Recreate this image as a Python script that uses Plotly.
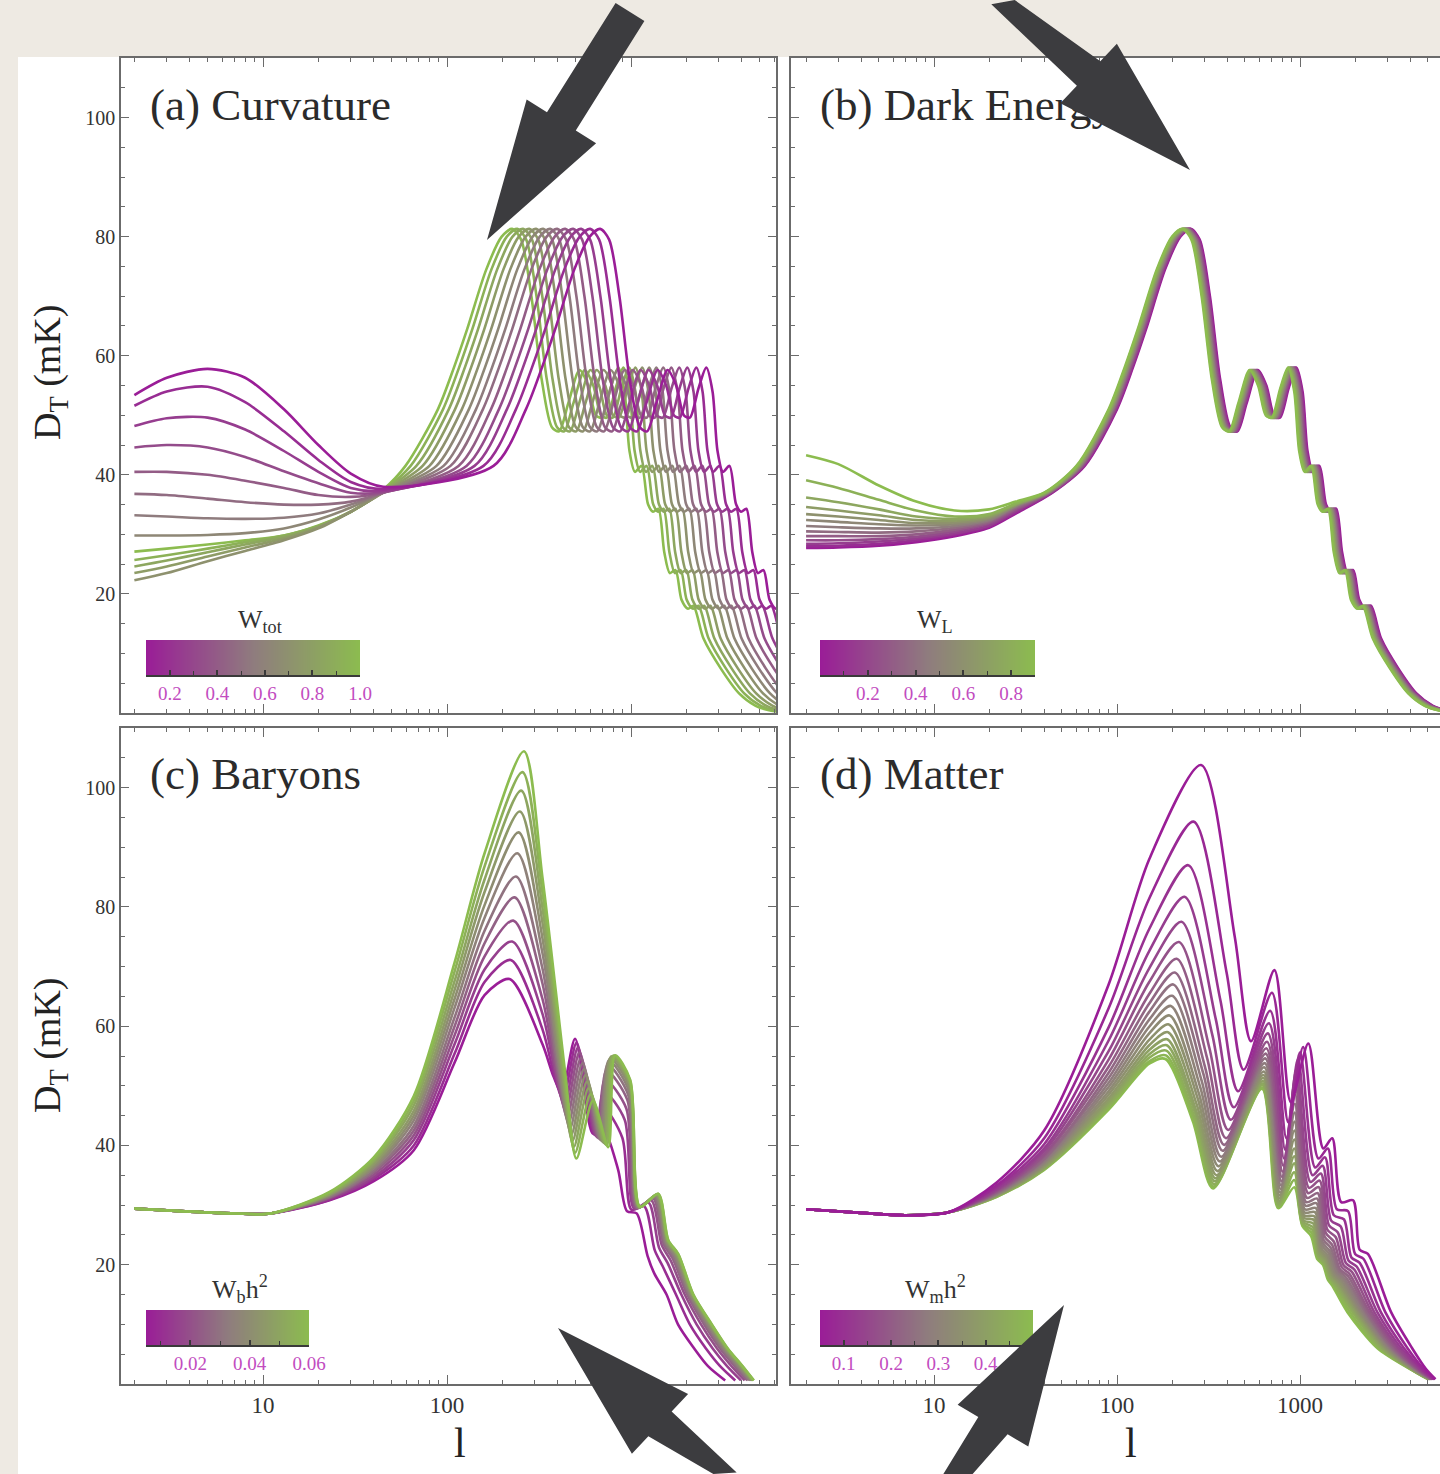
import plotly.graph_objects as go
from plotly.colors import sample_colorscale

W, H = 1440, 1474
SERIF = "Liberation Serif, Times New Roman, serif"
RAMP = [[0.0, "#9a1d97"], [0.5, "#8f7c7e"], [1.0, "#8cbc4f"]]

# ---------------- (a) Curvature ----------------
omega_tot = [0.1, 0.175, 0.25, 0.325, 0.4, 0.475, 0.55, 0.625, 0.7, 0.775, 0.85, 0.925, 1.0]
omega_tot_peak_l = [680, 600, 536, 485, 439, 397, 364, 333, 305, 280, 259, 241, 226]
curv_low_l = [2, 3, 5, 8, 13, 20, 30, 45]
curv_low_D = [
    [53.4, 56.3, 57.8, 56.3, 51.0, 45.0, 40.2, 38.0],
    [51.6, 54.0, 54.8, 52.2, 47.3, 42.5, 38.8, 37.6],
    [48.2, 49.5, 49.6, 47.6, 44.0, 40.5, 37.8, 37.3],
    [44.6, 45.0, 44.6, 43.0, 40.6, 38.6, 37.0, 37.1],
    [40.5, 40.5, 40.0, 39.0, 37.8, 36.6, 36.3, 37.0],
    [36.8, 36.6, 36.0, 35.4, 35.0, 35.0, 35.5, 37.0],
    [33.2, 33.0, 32.7, 32.6, 32.8, 33.5, 35.0, 37.0],
    [29.8, 29.8, 29.9, 30.2, 31.0, 32.5, 34.5, 37.0],
    [22.3, 23.5, 25.5, 27.2, 29.0, 31.0, 33.8, 37.0],
    [23.5, 24.6, 26.3, 27.8, 29.3, 31.2, 33.8, 37.1],
    [24.6, 25.6, 27.0, 28.3, 29.6, 31.3, 33.8, 37.2],
    [25.7, 26.5, 27.6, 28.7, 29.8, 31.4, 33.8, 37.3],
    [27.1, 27.6, 28.3, 29.0, 29.8, 31.5, 33.8, 37.5],
]

# acoustic part of the flat spectrum (first peak at l = 228)
acoustic_peak_l = 228
acoustic_l = [40, 60, 90, 110, 130, 165, 200, 228, 255, 290, 330, 375, 410, 460, 530, 590,
              650, 700, 780, 860, 930, 990, 1060, 1150, 1250, 1330, 1420, 1530, 1640, 1760,
              1900, 2060, 2200, 2500, 3100, 3900, 4800, 5600, 6500]
acoustic_D = [37.0, 41.5, 51.0, 58.0, 64.5, 74.5, 80.0, 81.3, 79.5, 70.0, 56.0, 48.0, 47.3,
              52.0, 57.6, 55.0, 50.0, 49.6, 54.5, 58.0, 54.0, 44.0, 40.5, 41.5, 35.0, 33.8,
              34.3, 27.0, 23.5, 24.0, 19.0, 17.5, 18.0, 12.5, 7.5, 3.3, 1.2, 0.5, 0.2]

# ---------------- (b) Dark energy ----------------
omega_lambda = [0.0, 0.075, 0.15, 0.225, 0.3, 0.375, 0.45, 0.525, 0.6, 0.675, 0.75, 0.825, 0.9]
lambda_shift = [1.11, 1.10, 1.09, 1.08, 1.07, 1.06, 1.05, 1.042, 1.034, 1.026, 1.017, 1.008, 1.0]
lambda_low_l = [2, 3, 5, 8, 13, 20, 28]
lambda_low_D = [
    [27.7, 27.8, 28.1, 28.7, 29.7, 31.1, 33.5],
    [28.0, 28.1, 28.4, 29.0, 30.0, 31.3, 33.7],
    [28.4, 28.5, 28.8, 29.3, 30.2, 31.5, 33.9],
    [29.0, 29.0, 29.2, 29.6, 30.5, 31.8, 34.1],
    [29.7, 29.7, 29.7, 30.0, 30.8, 32.0, 34.3],
    [30.5, 30.4, 30.3, 30.5, 31.1, 32.2, 34.5],
    [31.4, 31.2, 31.0, 31.0, 31.4, 32.4, 34.7],
    [32.4, 32.1, 31.7, 31.5, 31.7, 32.6, 34.8],
    [33.4, 33.0, 32.4, 31.9, 32.0, 32.8, 34.9],
    [34.6, 34.0, 33.2, 32.4, 32.3, 33.0, 35.0],
    [36.2, 35.4, 34.2, 33.0, 32.6, 33.2, 35.1],
    [39.1, 37.8, 35.8, 34.0, 33.0, 33.4, 35.2],
    [43.3, 41.8, 38.2, 35.5, 34.0, 34.2, 35.5],
]

# ---------------- (c) Baryons ----------------
baryon_h2 = [0.005, 0.010, 0.015, 0.020, 0.025, 0.030, 0.035, 0.040, 0.045, 0.050, 0.055, 0.060]
bar_low_l = [2, 4, 7, 11]
bar_low_D = [29.4, 28.9, 28.6, 28.6]
bar_rise_l = [23, 40, 66, 110, 160]
bar_D23 = [30.8, 30.9, 31.1, 31.2, 31.3, 31.4, 31.6, 31.7, 31.8, 31.9, 32.1, 32.2]
bar_D40 = [34.0, 34.4, 34.7, 35.1, 35.5, 35.8, 36.2, 36.5, 36.9, 37.3, 37.6, 38.0]
bar_D66 = [39.2, 40.0, 40.9, 41.7, 42.5, 43.3, 44.2, 45.0, 45.8, 46.7, 47.5, 48.3]
bar_D110 = [53.9, 55.4, 57.0, 58.5, 60.0, 61.5, 63.1, 64.6, 66.1, 67.6, 69.2, 70.7]
bar_D160 = [65.2, 67.4, 69.5, 71.7, 73.9, 76.0, 78.2, 80.3, 82.5, 84.6, 86.8, 89.0]
bar_p1_l = [219, 222, 226, 229, 233, 237, 241, 245, 249, 253, 257, 262]
bar_p1_D = [67.9, 71.1, 74.2, 77.7, 81.6, 85.1, 89.0, 92.5, 96.0, 99.5, 102.6, 106.1]
bar_D330 = [57.0, 59.5, 62.1, 64.6, 67.2, 69.7, 72.3, 74.8, 77.4, 79.9, 82.5, 85.0]
bar_d2_l = [380, 385, 391, 396, 402, 407, 413, 418, 424, 429, 435, 440]
bar_d2_D = [51.5, 51.5, 51.6, 51.6, 51.6, 51.7, 51.7, 51.7, 51.8, 51.8, 51.8, 51.9]
bar_t1_l = [420, 427, 435, 442, 450, 458, 466, 474, 481, 489, 497, 505]
bar_t1_D = [48.8, 47.8, 46.8, 45.8, 44.8, 43.8, 42.8, 41.8, 40.8, 39.8, 38.8, 37.8]
bar_p2_l = [497, 506, 515, 525, 535, 545, 555, 566, 577, 588, 604, 621]
bar_p2_D = [57.9, 57.2, 56.4, 55.6, 54.7, 53.8, 52.8, 51.8, 50.7, 49.6, 48.6, 47.5]
bar_t2_l = [620, 631, 642, 653, 665, 677, 689, 701, 713, 726, 739, 753]
bar_t2_D = [42.0, 41.8, 41.6, 41.4, 41.2, 41.0, 40.8, 40.6, 40.4, 40.2, 40.0, 39.7]
bar_p3_l = [692, 702, 713, 724, 735, 746, 757, 768, 780, 793, 806, 820]
bar_p3_D = [43.5, 46.5, 49.0, 51.0, 52.5, 53.5, 54.2, 54.6, 54.9, 55.0, 55.1, 55.1]
bar_d3_l = [850, 897, 924, 943, 956, 965, 972, 978, 983, 985, 988, 990]
bar_d3_D = [36.0, 41.3, 44.3, 46.2, 47.6, 48.5, 49.2, 49.8, 50.3, 50.6, 50.9, 51.0]
bar_t3_l = [950, 1006, 1039, 1062, 1077, 1089, 1097, 1105, 1110, 1113, 1116, 1119]
bar_t3_D = [29.0, 29.2, 29.4, 29.5, 29.5, 29.6, 29.6, 29.6, 29.7, 29.7, 29.7, 29.7]
bar_p4_l = [1074, 1180, 1245, 1289, 1321, 1343, 1361, 1375, 1387, 1394, 1401, 1405]
bar_p4_D = [28.6, 29.8, 30.4, 30.8, 31.1, 31.3, 31.5, 31.6, 31.7, 31.8, 31.9, 31.9]
bar_t4_l = [1230, 1347, 1419, 1469, 1503, 1527, 1546, 1562, 1574, 1583, 1592, 1596]
bar_t4_D = [21.5, 22.4, 22.9, 23.3, 23.5, 23.7, 23.8, 23.9, 24.0, 24.0, 24.1, 24.1]
bar_p5_l = [1340, 1489, 1580, 1643, 1687, 1718, 1743, 1765, 1781, 1791, 1803, 1808]
bar_p5_D = [18.5, 19.7, 20.3, 20.7, 21.0, 21.2, 21.4, 21.5, 21.6, 21.7, 21.8, 21.8]
bar_tail_D = [15.0, 10.0, 6.0, 3.0, 0.6]
bar_T15_l = [1560, 1755, 1877, 1960, 2020, 2061, 2097, 2125, 2147, 2161, 2175, 2182]
bar_T10_l = [1800, 2088, 2272, 2402, 2494, 2558, 2613, 2658, 2692, 2716, 2740, 2750]
bar_T6_l = [2200, 2548, 2772, 2929, 3041, 3119, 3186, 3239, 3280, 3308, 3336, 3350]
bar_T3_l = [2620, 3049, 3325, 3517, 3657, 3752, 3835, 3902, 3953, 3987, 4020, 4040]
bar_T1_l = [3250, 3686, 3959, 4148, 4284, 4376, 4453, 4517, 4567, 4601, 4640, 4650]

# ---------------- (d) Matter ----------------
matter_h2 = [0.05, 0.075, 0.1, 0.125, 0.15, 0.175, 0.2, 0.225, 0.25, 0.275, 0.3, 0.325,
             0.35, 0.375, 0.4, 0.425, 0.45, 0.475, 0.5]
mat_low_l = [2, 4, 7, 12]
mat_low_D = [29.3, 28.7, 28.3, 28.8]
mat_rise_l = [22, 40, 90, 150]
mat_D22 = [33.8, 33.3, 33.0, 32.7, 32.5, 32.4, 32.2, 32.1, 32.0, 31.9, 31.8, 31.8, 31.7, 31.6, 31.6, 31.5, 31.5, 31.4, 31.4]
mat_D40 = [42.5, 41.2, 40.2, 39.5, 39.0, 38.5, 38.2, 37.8, 37.6, 37.3, 37.1, 36.9, 36.7, 36.5, 36.3, 36.2, 36.1, 36.0, 35.9]
mat_D90 = [67.0, 63.0, 59.8, 57.6, 55.8, 54.4, 53.2, 52.2, 51.3, 50.5, 49.8, 49.1, 48.5, 47.9, 47.4, 47.0, 46.6, 46.3, 46.0]
mat_D150 = [88.0, 81.4, 76.3, 72.6, 69.7, 67.4, 65.4, 63.8, 62.4, 61.1, 59.9, 58.8, 57.7, 56.8, 56.0, 55.3, 54.7, 54.1, 53.7]
mat_p1_l = [288, 262, 245, 234, 225, 218, 212, 207, 203, 200, 197, 194, 192, 190, 188, 187, 186, 185, 184]
mat_p1_D = [103.8, 94.3, 87.0, 81.7, 77.5, 74.1, 71.3, 69.0, 67.0, 65.1, 63.4, 61.8, 60.3, 59.0, 57.8, 56.8, 55.9, 55.1, 54.5]
mat_dsc_l = [440, 397, 367, 347, 332, 320, 311, 303, 297, 291, 286, 281, 277, 273, 269, 267, 264, 262, 260]
mat_dsc_D = [75.0, 69.0, 64.4, 61.1, 58.5, 56.3, 54.6, 53.1, 51.9, 50.7, 49.6, 48.6, 47.7, 46.8, 46.1, 45.5, 44.9, 44.4, 44.0]
mat_t1_l = [540, 492, 459, 435, 419, 405, 394, 385, 378, 371, 365, 359, 354, 350, 346, 343, 340, 337, 335]
mat_t1_D = [57.5, 52.7, 49.1, 46.4, 44.3, 42.6, 41.2, 40.1, 39.1, 38.1, 37.3, 36.5, 35.7, 35.0, 34.5, 34.0, 33.5, 33.1, 32.8]
mat_p2_l = [725, 703, 687, 676, 667, 660, 654, 649, 645, 641, 637, 634, 631, 629, 626, 624, 622, 621, 620]
mat_p2_D = [69.4, 65.6, 62.6, 60.5, 58.8, 57.4, 56.3, 55.4, 54.6, 53.8, 53.1, 52.4, 51.8, 51.3, 50.8, 50.4, 50.1, 49.7, 49.5]
mat_t2_l = [890, 863, 843, 830, 818, 809, 802, 796, 791, 787, 782, 778, 774, 771, 769, 766, 764, 762, 760]
mat_t2_D = [47.3, 43.9, 41.2, 39.3, 37.8, 36.6, 35.6, 34.7, 34.0, 33.3, 32.7, 32.1, 31.6, 31.1, 30.7, 30.3, 30.0, 29.7, 29.5]
mat_p3_l = [1110, 1040, 1000, 975, 960, 950, 945, 940, 937, 935, 934, 933, 932, 931, 931, 930, 930, 930, 930]
mat_p3_D = [57.1, 56.5, 55.6, 54.5, 53.0, 51.5, 50.0, 48.5, 47.0, 45.5, 44.0, 42.5, 41.0, 39.5, 38.2, 37.0, 35.5, 34.2, 33.0]
mat_t3_l = [1340, 1260, 1210, 1170, 1140, 1120, 1105, 1090, 1080, 1070, 1062, 1055, 1050, 1045, 1040, 1037, 1034, 1032, 1030]
mat_t3_D = [39.5, 37.8, 36.3, 35.0, 33.9, 32.9, 32.0, 31.2, 30.5, 29.9, 29.3, 28.8, 28.3, 27.9, 27.5, 27.2, 26.9, 26.7, 26.5]
mat_p4_l = [1500, 1420, 1370, 1330, 1300, 1280, 1265, 1250, 1240, 1230, 1220, 1210, 1200, 1192, 1185, 1178, 1170, 1160, 1150]
mat_p4_D = [41.2, 39.5, 38.0, 36.6, 35.3, 34.1, 33.0, 32.0, 31.1, 30.3, 29.5, 28.8, 28.1, 27.5, 26.9, 26.3, 25.8, 25.3, 24.8]
mat_t4_l = [1680, 1590, 1530, 1480, 1440, 1410, 1385, 1365, 1345, 1330, 1315, 1303, 1292, 1282, 1273, 1265, 1257, 1249, 1240]
mat_t4_D = [30.5, 29.3, 28.3, 27.4, 26.6, 25.9, 25.3, 24.7, 24.2, 23.7, 23.3, 22.9, 22.5, 22.2, 21.9, 21.6, 21.4, 21.2, 21.0]
mat_p5_l = [1950, 1830, 1740, 1670, 1610, 1570, 1530, 1500, 1475, 1455, 1435, 1418, 1403, 1390, 1378, 1367, 1357, 1345, 1335]
mat_p5_D = [30.8, 29.0, 27.6, 26.4, 25.4, 24.6, 23.9, 23.3, 22.8, 22.3, 21.9, 21.5, 21.2, 20.9, 20.6, 20.4, 20.2, 20.1, 20.0]
mat_t5_l = [2120, 2000, 1910, 1840, 1780, 1730, 1690, 1650, 1620, 1590, 1565, 1540, 1520, 1500, 1480, 1465, 1450, 1435, 1420]
mat_t5_D = [22.5, 21.8, 21.2, 20.7, 20.3, 19.9, 19.6, 19.3, 19.1, 18.9, 18.7, 18.5, 18.3, 18.2, 18.0, 17.9, 17.8, 17.6, 17.5]
mat_p6_l = [2350, 2220, 2120, 2040, 1980, 1920, 1870, 1830, 1790, 1750, 1720, 1690, 1660, 1630, 1600, 1575, 1550, 1525, 1500]
mat_p6_D = [21.8, 21.0, 20.3, 19.7, 19.2, 18.8, 18.4, 18.1, 17.8, 17.6, 17.4, 17.2, 17.0, 16.9, 16.8, 16.7, 16.6, 16.5, 16.5]
mat_tail_D = [12.0, 6.0, 2.5, 0.8]
mat_T12_l = [3150, 2930, 2770, 2650, 2550, 2470, 2400, 2340, 2290, 2240, 2190, 2150, 2110, 2070, 2030, 1990, 1940, 1880, 1820]
mat_T6_l = [4100, 3870, 3700, 3570, 3460, 3370, 3300, 3230, 3170, 3120, 3070, 3020, 2970, 2920, 2870, 2820, 2760, 2700, 2650]
mat_T2_l = [4880, 4740, 4630, 4550, 4480, 4420, 4370, 4330, 4290, 4250, 4210, 4180, 4150, 4120, 4090, 4060, 4040, 4020, 4000]
mat_T1_l = [5500, 5440, 5390, 5350, 5310, 5280, 5250, 5220, 5200, 5180, 5160, 5140, 5120, 5100, 5080, 5060, 5040, 5020, 5000]

# axis tick positions
x_major = [10, 100, 1000]
x_minor = [2, 3, 4, 5, 6, 7, 8, 9, 20, 30, 40, 50, 60, 70, 80, 90,
           200, 300, 400, 500, 600, 700, 800, 900, 2000, 3000, 4000, 5000, 6000]
y_major = [20, 40, 60, 80, 100]


def fx(p):
    return p / W


def fy(p):
    return 1 - p / H


def colour(v, lo, hi):
    return sample_colorscale(RAMP, [(v - lo) / (hi - lo)])[0]


fig = go.Figure()


def add_line(l, d, col, n):
    fig.add_trace(go.Scatter(
        x=l, y=d, mode="lines",
        line=dict(color=col, width=2.6, shape="spline", smoothing=0.8),
        xaxis="x" + n, yaxis="y" + n, hoverinfo="skip", showlegend=False))


# (a) flat model drawn first, open models on top
for i in reversed(range(len(omega_tot))):
    s = omega_tot_peak_l[i] / acoustic_peak_l
    add_line(curv_low_l + [v * s for v in acoustic_l[1:]], curv_low_D[i] + acoustic_D[1:],
             colour(omega_tot[i], 0.1, 1.0), "")

# (b)
for i in range(len(omega_lambda)):
    s = lambda_shift[i]
    add_line(lambda_low_l + [v * s for v in acoustic_l], lambda_low_D[i] + acoustic_D,
             colour(omega_lambda[i], 0.0, 0.9), "2")

# (c)
for j in range(len(baryon_h2)):
    l = bar_low_l + bar_rise_l + [bar_p1_l[j], 330, bar_d2_l[j], bar_t1_l[j], bar_p2_l[j],
                                  bar_t2_l[j], bar_p3_l[j], bar_d3_l[j], bar_t3_l[j], bar_p4_l[j],
                                  bar_t4_l[j], bar_p5_l[j], bar_T15_l[j], bar_T10_l[j],
                                  bar_T6_l[j], bar_T3_l[j], bar_T1_l[j]]
    d = bar_low_D + [bar_D23[j], bar_D40[j], bar_D66[j], bar_D110[j], bar_D160[j],
                     bar_p1_D[j], bar_D330[j], bar_d2_D[j], bar_t1_D[j], bar_p2_D[j],
                     bar_t2_D[j], bar_p3_D[j], bar_d3_D[j], bar_t3_D[j], bar_p4_D[j],
                     bar_t4_D[j], bar_p5_D[j]] + bar_tail_D
    add_line(l, d, colour(baryon_h2[j], 0.005, 0.06), "3")

# (d) high matter density first, low density on top
for k in reversed(range(len(matter_h2))):
    l = mat_low_l + mat_rise_l + [mat_p1_l[k], mat_dsc_l[k], mat_t1_l[k], mat_p2_l[k],
                                  mat_t2_l[k], mat_p3_l[k], mat_t3_l[k], mat_p4_l[k],
                                  mat_t4_l[k], mat_p5_l[k], mat_t5_l[k], mat_p6_l[k],
                                  mat_T12_l[k], mat_T6_l[k], mat_T2_l[k], mat_T1_l[k]]
    d = mat_low_D + [mat_D22[k], mat_D40[k], mat_D90[k], mat_D150[k], mat_p1_D[k],
                     mat_dsc_D[k], mat_t1_D[k], mat_p2_D[k], mat_t2_D[k], mat_p3_D[k],
                     mat_t3_D[k], mat_p4_D[k], mat_t4_D[k], mat_p5_D[k], mat_t5_D[k],
                     mat_p6_D[k]] + mat_tail_D
    add_line(l, d, colour(matter_h2[k], 0.05, 0.5), "4")

# panel captions (text marks, so the arrows can overlap them)
captions = [("", 2.43, 101.5, "(a) Curvature"), ("2", 2.38, 101.5, "(b) Dark Energy"),
            ("3", 2.43, 101.6, "(c) Baryons"), ("4", 2.38, 101.6, "(d) Matter")]
for n, cx, cy, txt in captions:
    fig.add_trace(go.Scatter(x=[cx], y=[cy], mode="text", text=[txt], textposition="middle right",
                             textfont=dict(family=SERIF, size=45, color="#2b2b2b"),
                             xaxis="x" + n, yaxis="y" + n, hoverinfo="skip", showlegend=False))

AX = "#6b6b6b"


def xaxis(dom, rng, anchor, labels, ticktext):
    return dict(domain=dom, range=rng, type="log", anchor=anchor, showline=True, linecolor=AX,
                linewidth=1.6, mirror="ticks", ticks="inside", ticklen=9, tickcolor=AX, tickwidth=1.4,
                tickvals=x_major, ticktext=ticktext, showticklabels=labels, automargin=False,
                tickfont=dict(family=SERIF, size=23, color="#333333"),
                minor=dict(tickmode="array", tickvals=x_minor, ticks="inside", ticklen=4.5,
                           tickcolor=AX, tickwidth=1.2, showgrid=False),
                showgrid=False, zeroline=False)


def yaxis(dom, anchor, labels, mirror):
    return dict(domain=dom, range=[0, 110], anchor=anchor, showline=True, linecolor=AX,
                linewidth=1.6, mirror="ticks" if mirror else False, ticks="inside", ticklen=8,
                tickcolor=AX, tickwidth=1.4, tickvals=y_major, showticklabels=labels,
                automargin=False, tickfont=dict(family=SERIF, size=20, color="#333333"),
                minor=dict(dtick=5, ticks="inside", ticklen=4.5, tickcolor=AX, tickwidth=1.2,
                           showgrid=False),
                showgrid=False, zeroline=False)


# pixel geometry: left panels 121..776, right panels start at 791 and run past the page edge
left_dom = [fx(121), fx(776)]
right_dom = [fx(791), 1.0]
top_dom = [fy(713), fy(58)]
bot_dom = [fy(1384), fy(728)]
left_rng = [0.2283, 3.788]
right_rng = [0.2186, 3.765]

layout = dict(
    width=W, height=H, autosize=False,
    margin=dict(l=0, r=0, t=0, b=0, pad=0, autoexpand=False),
    paper_bgcolor="#eeeae3", plot_bgcolor="rgba(0,0,0,0)", showlegend=False,
    xaxis=xaxis(left_dom, left_rng, "y", False, None),
    yaxis=yaxis(top_dom, "x", True, True),
    xaxis2=xaxis(right_dom, right_rng, "y2", False, None),
    yaxis2=yaxis(top_dom, "x2", False, False),
    xaxis3=xaxis(left_dom, left_rng, "y3", True, ["10", "100", "1000"]),
    yaxis3=yaxis(bot_dom, "x3", True, True),
    xaxis4=xaxis(right_dom, right_rng, "y4", True, ["10", "100", "1000"]),
    yaxis4=yaxis(bot_dom, "x4", False, False),
)

# colour keys drawn as small smoothed heatmaps
keys = [
    ("5", 146, 360, 640, 675, 0.1, 1.0, [0.2, 0.4, 0.6, 0.8, 1.0],
     ["0.2", "0.4", "0.6", "0.8", "1.0"], 0.1, "W<sub>tot</sub>", 260),
    ("6", 820, 1035, 640, 675, 0.0, 0.9, [0.2, 0.4, 0.6, 0.8],
     ["0.2", "0.4", "0.6", "0.8"], 0.1, "W<sub>L</sub>", 935),
    ("7", 146, 309, 1310, 1345, 0.005, 0.06, [0.02, 0.04, 0.06],
     ["0.02", "0.04", "0.06"], 0.01, "W<sub>b</sub>h<sup>2</sup>", 240),
    ("8", 820, 1033, 1310, 1345, 0.05, 0.5, [0.1, 0.2, 0.3, 0.4, 0.5],
     ["0.1", "0.2", "0.3", "0.4", "0.5"], 0.05, "W<sub>m</sub>h<sup>2</sup>", 935),
]
annotations = []
for n, x0, x1, y0, y1, lo, hi, tv, tt, step, title, tx in keys:
    fig.add_trace(go.Heatmap(z=[[lo, hi], [lo, hi]], x=[lo, hi], y=[0, 1], colorscale=RAMP,
                             zmin=lo, zmax=hi, zsmooth="best", showscale=False,
                             xaxis="x" + n, yaxis="y" + n, hoverinfo="skip"))
    layout["xaxis" + n] = dict(domain=[fx(x0), fx(x1)], range=[lo, hi], anchor="y" + n,
                               showline=True, linecolor="#3a3a3a", linewidth=2.2, ticks="inside",
                               ticklen=5, tickcolor="#3a3a3a", tickwidth=1.5, tickvals=tv,
                               ticktext=tt, automargin=False,
                               minor=dict(tick0=0, dtick=step, ticks="inside", ticklen=4,
                                          tickcolor="#3a3a3a", tickwidth=1.3, showgrid=False),
                               showgrid=False, zeroline=False,
                               tickfont=dict(family=SERIF, size=19, color="#c24cc0"))
    layout["yaxis" + n] = dict(domain=[fy(y1), fy(y0)], range=[0, 1], anchor="x" + n,
                               visible=False, automargin=False)
    annotations.append(dict(x=fx(tx), y=fy(y0 - 1), xref="paper", yref="paper", text=title,
                            showarrow=False, xanchor="center", yanchor="bottom",
                            font=dict(family=SERIF, size=26, color="#333333")))

for ty in (372, 1045):
    annotations.append(dict(x=fx(50), y=fy(ty), xref="paper", yref="paper",
                            text="D<sub>T</sub> (mK)", textangle=-90, showarrow=False,
                            xanchor="center", yanchor="middle",
                            font=dict(family=SERIF, size=38, color="#222222")))
for tx in (460, 1131):
    annotations.append(dict(x=fx(tx), y=fy(1443), xref="paper", yref="paper", text="l",
                            showarrow=False, xanchor="center", yanchor="middle",
                            font=dict(family=SERIF, size=42, color="#222222")))


def arrow_path(tail, tip, shaft_hw, head_hw, head_len):
    (x0, y0), (x1, y1) = tail, tip
    dx, dy = x1 - x0, y1 - y0
    length = (dx * dx + dy * dy) ** 0.5
    ux, uy = dx / length, dy / length
    nx, ny = -uy, ux
    bx, by = x1 - ux * head_len, y1 - uy * head_len
    pts = [(x0 + nx * shaft_hw, y0 + ny * shaft_hw), (bx + nx * shaft_hw, by + ny * shaft_hw),
           (bx + nx * head_hw, by + ny * head_hw), (x1, y1),
           (bx - nx * head_hw, by - ny * head_hw), (bx - nx * shaft_hw, by - ny * shaft_hw),
           (x0 - nx * shaft_hw, y0 - ny * shaft_hw)]
    # keep the outline inside the page so nothing spills past its edges
    pts = [(min(max(px, 0), W), min(max(py, 0), H)) for px, py in pts]
    return "M " + " L ".join(f"{fx(px):.5f},{fy(py):.5f}" for px, py in pts) + " Z"


shapes = [dict(type="rect", xref="paper", yref="paper", x0=fx(18), x1=1, y0=0, y1=fy(57),
               fillcolor="white", line=dict(width=0), layer="below")]
pointers = [((630, 12), (487, 240)), ((1003, -8), (1190, 170)),
            ((725, 1485), (558, 1328)), ((958, 1485), (1064, 1305))]
for tail, tip in pointers:
    shapes.append(dict(type="path", path=arrow_path(tail, tip, 17, 41, 140), xref="paper",
                       yref="paper", fillcolor="#3c3c3f", line=dict(width=0), layer="above"))

layout["shapes"] = shapes
layout["annotations"] = annotations
fig.update_layout(**layout)
fig.write_html("out.html")
